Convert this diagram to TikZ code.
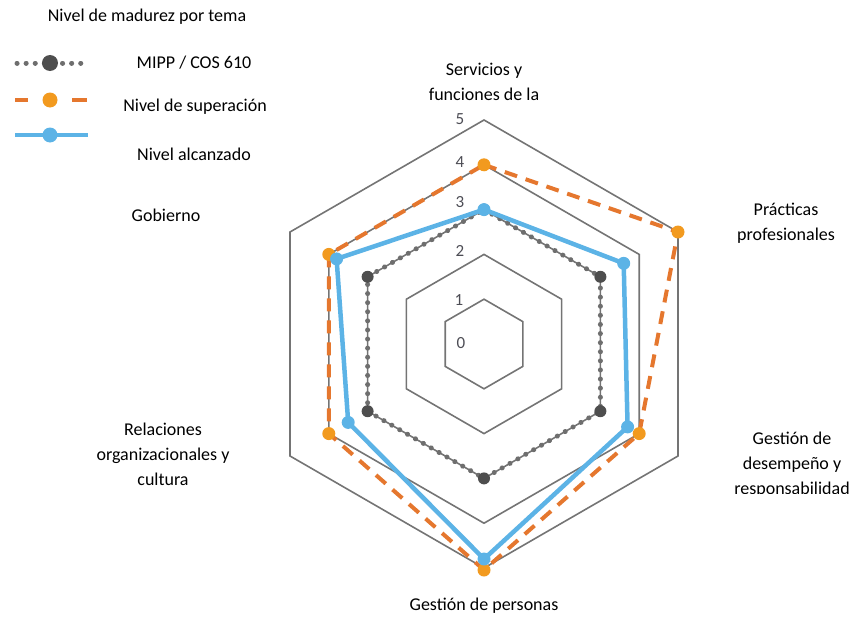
\documentclass[tikz,border=0pt]{standalone}
\usepackage{fontspec}
\setmainfont{Carlito}
\definecolor{gridgray}{HTML}{747474}
\definecolor{mippline}{HTML}{6E6E6E}
\definecolor{mippdot}{HTML}{4E4E4E}
\definecolor{supline}{HTML}{E5772E}
\definecolor{supdot}{HTML}{F29A1F}
\definecolor{alcblue}{HTML}{5CB3E6}
\definecolor{numgray}{HTML}{4D4D55}
\begin{document}
\begin{tikzpicture}[x=1pt,y=-1pt,
  lbl/.style={font=\fontsize{18}{25}\selectfont, align=center, text=black, inner sep=0pt},
  num/.style={font=\fontsize{17}{17}\selectfont, text=numgray, inner sep=0pt},
  gridline/.style={draw=gridgray, line width=1.6pt, line join=miter},
  mippstyle/.style={draw=mippline, line width=5pt, line cap=round, dash pattern=on 0.1pt off 9pt},
  supstyle/.style={draw=supline, line width=4pt, dash pattern=on 13pt off 9pt},
  alcstyle/.style={draw=alcblue, line width=4.5pt, line join=round},
  mippmark/.style={fill=mippdot, draw=none},
  supmark/.style={fill=supdot, draw=none},
  alcmark/.style={fill=alcblue, draw=none}
]
\useasboundingbox (0,0) rectangle (853,618);

% ---------- legend ----------
\node[lbl] (title) at (147,17) {Nivel de madurez por tema};
\coordinate (l1a) at (17,63);  \coordinate (l1b) at (88,63);  \coordinate (l1c) at (50,63);
\draw[mippstyle] (l1a) -- (l1b);
\fill[mippmark] (l1c) circle (8);
\node[lbl] (t1) at (194,63) {MIPP / COS 610};

\coordinate (l2a) at (15,100); \coordinate (l2b) at (28,100);
\coordinate (l2c) at (72,100); \coordinate (l2d) at (87,100); \coordinate (l2e) at (50,100);
\draw[draw=supline, line width=4pt] (l2a) -- (l2b);
\draw[draw=supline, line width=4pt] (l2c) -- (l2d);
\fill[supmark] (l2e) circle (7.5);
\node[lbl] (t2) at (195,107) {Nivel de superación};

\coordinate (l3a) at (15,135); \coordinate (l3b) at (88,135); \coordinate (l3c) at (50,135);
\draw[alcstyle] (l3a) -- (l3b);
\fill[alcmark] (l3c) circle (7.5);
\node[lbl] (t3) at (194,154) {Nivel alcanzado};

% ---------- radar ----------
\begin{scope}[shift={(484,344)}]
  \foreach \r in {44.8,89.6,134.4,179.2,224}{
    \draw[gridline] (-90:\r) -- (-30:\r) -- (30:\r) -- (90:\r) -- (150:\r) -- (210:\r) -- cycle;
  }
  % MIPP (all 3)
  \coordinate (m1) at (-90:134.4); \coordinate (m2) at (-30:134.4);
  \coordinate (m3) at (30:134.4);  \coordinate (m4) at (90:134.4);
  \coordinate (m5) at (150:134.4); \coordinate (m6) at (210:134.4);
  \draw[mippstyle] (m1) -- (m2) -- (m3) -- (m4) -- (m5) -- (m6) -- cycle;
  \foreach \p in {m1,m2,m3,m4,m5,m6} \fill[mippmark] (\p) circle (6);

  % Nivel de superacion
  \coordinate (s1) at (-90:179.2); \coordinate (s2) at (-30:224);
  \coordinate (s3) at (30:179.2);  \coordinate (s4) at (90:226);
  \coordinate (s5) at (150:179.2); \coordinate (s6) at (210:179.2);
  \draw[supstyle] (s1) -- (s2) -- (s3) -- (s4) -- (s5) -- (s6) -- cycle;
  \foreach \p in {s1,s2,s3,s4,s5,s6} \fill[supmark] (\p) circle (6.5);

  % Nivel alcanzado
  \coordinate (a1) at (-90:134.4); \coordinate (a2) at (-30:161.3);
  \coordinate (a3) at (30:165.8);  \coordinate (a4) at (90:215);
  \coordinate (a5) at (150:156.8); \coordinate (a6) at (210:170.2);
  \draw[alcstyle] (a1) -- (a2) -- (a3) -- (a4) -- (a5) -- (a6) -- cycle;
  \foreach \p in {a1,a2,a3,a4,a5,a6} \fill[alcmark] (\p) circle (6.5);
\end{scope}

% scale numbers
\node[num] (n5) at (460,119) {5};
\node[num] (n4) at (460,162) {4};
\node[num] (n3) at (460,202) {3};
\node[num] (n2) at (460,251) {2};
\node[num] (n1) at (459,300) {1};
\node[num] (n0) at (461,343) {0};

% ---------- axis labels ----------
\node[lbl] (ax1) at (484,82) {Servicios y\\funciones de la};
\node[lbl] (ax2) at (786,223) {Prácticas\\profesionales};
\begin{scope}
  \clip (700,420) rectangle (853,493);
  \node[lbl] (ax3) at (792,465) {Gestión de\\desempeño y\\responsabilidad};
\end{scope}
\node[lbl] (ax4) at (484,606) {Gestión de personas};
\node[lbl] (ax5) at (163,454) {Relaciones\\organizacionales y\\cultura};
\node[lbl] (ax6) at (166,215) {Gobierno};
\end{tikzpicture}
\end{document}
